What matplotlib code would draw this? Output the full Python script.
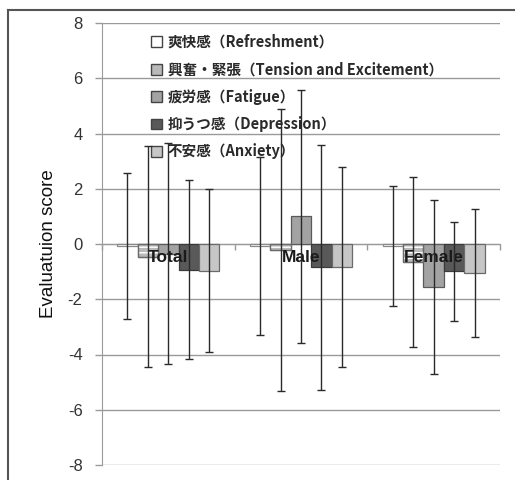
import matplotlib.pyplot as plt
import numpy as np
from matplotlib.patches import Patch
from matplotlib.lines import Line2D

plt.rcParams['font.family'] = ['Liberation Sans', 'Noto Sans CJK JP', 'DejaVu Sans']
plt.rcParams['axes.unicode_minus'] = False

groups = ["Total", "Male", "Female"]
series = ["爽快感（Refreshment）", "興奮・緊張（Tension and Excitement）",
          "疲労感（Fatigue）", "抑うつ感（Depression）", "不安感（Anxiety）"]

# rows = series, columns = groups
means = [
    [-0.07, -0.06, -0.06],
    [-0.47, -0.22, -0.64],
    [-0.36, 1.01, -1.56],
    [-0.93, -0.84, -0.99],
    [-0.96, -0.85, -1.06],
]
sds = [
    [2.65, 3.22, 2.17],
    [4.00, 5.10, 3.08],
    [4.00, 4.58, 3.15],
    [3.25, 4.44, 1.80],
    [2.95, 3.62, 2.31],
]

faces = ["white", "#b9b9b9", "#a3a3a3", "#595959", "#c6c6c6"]
edges = ["#8a8a8a", "#6a6a6a", "#5a5a5a", "#3a3a3a", "#6a6a6a"]

fig = plt.figure(figsize=(5.15, 4.8), dpi=100)
ax = fig.add_axes([102 / 515, 15 / 480, 398 / 515, 442 / 480])

x = np.arange(len(groups))
w = 0.154
for i in range(len(series)):
    xs = x + (i - 2) * w
    ax.bar(xs, means[i], w, color=faces[i], edgecolor=edges[i], linewidth=0.9, zorder=3)
    if i == 1:
        # white horizontal stripes on the tension bars
        ax.bar(xs, means[i], w, color="none", edgecolor="white", hatch="---",
               linewidth=0, zorder=3.5)
        ax.bar(xs, means[i], w, color="none", edgecolor=edges[i], linewidth=0.9, zorder=3.6)
    ax.errorbar(xs, means[i], yerr=sds[i], fmt="none", ecolor="#2a2a2a",
                elinewidth=1.0, capsize=3, capthick=1.0, zorder=6)

for xi, g in zip(x, groups):
    ax.text(xi, -0.5, g, ha="center", va="center", fontsize=12.5,
            fontweight="bold", color="#1a1a1a", zorder=5)

ax.set_xlim(-0.5, 2.5)
ax.set_ylim(-8, 8)
ax.set_yticks(np.arange(-8, 9, 2))
ax.yaxis.grid(True, color="#9a9a9a", linewidth=1.0, zorder=0)
ax.set_axisbelow(True)
ax.tick_params(axis="y", length=5, width=1, color="#9a9a9a", pad=9,
               labelsize=12, labelcolor="#333333")
ax.set_xticks([-0.5, 0.5, 1.5, 2.5])
ax.set_xticklabels([])
ax.tick_params(axis="x", length=4, width=1, color="#9a9a9a", direction="out")
ax.spines["bottom"].set_position(("data", 0))
ax.spines["bottom"].set_color("#9a9a9a")
ax.spines["left"].set_color("#9a9a9a")
ax.spines["top"].set_visible(False)
ax.spines["right"].set_visible(False)

ax.set_ylabel("Evaluatuion score", fontsize=13.5, color="#111111", labelpad=8)

handles = [Patch(facecolor=faces[i], edgecolor="#444444", linewidth=1.0) for i in range(len(series))]
leg = ax.legend(handles, series, loc="upper left", bbox_to_anchor=(0.09, 1.005),
                frameon=False, handlelength=0.75, handleheight=0.75, handletextpad=0.4,
                labelspacing=0.78, prop={"family": ["Noto Sans CJK JP", "DejaVu Sans"],
                                         "size": 10.5, "weight": "bold"})
leg.set_zorder(4)
for t in leg.get_texts():
    t.set_color("#2a2a2a")

# outer frame of the original figure
fig.add_artist(Line2D([8 / 515, 8 / 515], [0, 1 - 10 / 480], color="#555555", lw=1.5))
fig.add_artist(Line2D([8 / 515, 1], [1 - 10 / 480, 1 - 10 / 480], color="#555555", lw=1.5))

fig.savefig("out.png", dpi=100)
